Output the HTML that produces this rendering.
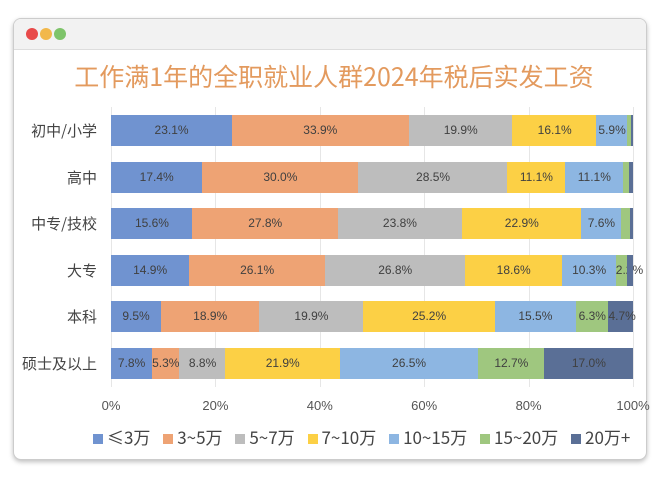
<!DOCTYPE html>
<html><head><meta charset="utf-8"><style>
body{margin:0;width:660px;height:477px;background:#fff;position:relative;overflow:hidden;font-family:"Liberation Sans","Noto Sans CJK SC",sans-serif}
.card{position:absolute;left:13px;top:18px;width:632px;height:440px;border:1px solid #ccc;border-radius:8px;box-shadow:0 2px 5px rgba(0,0,0,.25);background:#fff;overflow:hidden}
.bar{position:absolute;left:0;top:0;width:632px;height:30px;background:#f2f2f2;border-bottom:1px solid #ddd}
.dot{position:absolute;top:9px;width:12px;height:12px;border-radius:50%}
.title{position:absolute;left:0;width:668px;top:58px;text-align:center;font-size:25px;color:#e39a5e;font-family:"Noto Sans CJK SC",sans-serif}
.seg{position:absolute;height:31px;font-size:12px;color:#404040;text-align:center;line-height:31px;white-space:nowrap}
.cat{position:absolute;right:563px;font-size:15px;color:#444;font-family:"Noto Sans CJK SC",sans-serif;line-height:31px;white-space:nowrap}
.grid{position:absolute;top:107px;height:280px;width:1px;background:#e6e6e6}
.tick{position:absolute;top:398px;font-size:13px;color:#555;width:40px;margin-left:-20px;text-align:center}
.leg{position:absolute;top:424px;left:84px;font-size:17px;color:#444;font-family:"Noto Sans CJK SC",sans-serif;white-space:nowrap}
.leg span{display:inline-block;width:10px;height:10px;margin:0 4px 0 9px}
</style></head><body>
<div class="card"><div class="bar">
<div class="dot" style="left:12px;background:#e84a4a"></div>
<div class="dot" style="left:26px;background:#f2b84b"></div>
<div class="dot" style="left:40px;background:#7ec46a"></div></div></div>
<div class="title">工作满1年的全职就业人群2024年税后实发工资</div>
<div id="c"></div>
<div class="leg"><span style="background:#7093d0"></span>≤3万 <span style="background:#eea374"></span>3~5万 <span style="background:#bdbdbd"></span>5~7万 <span style="background:#fcd045"></span>7~10万 <span style="background:#8db6e2"></span>10~15万 <span style="background:#9fc77f"></span>15~20万 <span style="background:#5a6f96"></span>20万+</div>
<script>
var cols=["#7093d0","#eea374","#bdbdbd","#fcd045","#8db6e2","#9fc77f","#5a6f96"];
var rows=[["初中/小学",[23.1,33.9,19.9,16.1,5.9,0.8,0.3],115],
["高中",[17.4,30.0,28.5,11.1,11.1,1.2,0.7],162],
["中专/技校",[15.6,27.8,23.8,22.9,7.6,1.8,0.5],208],
["大专",[14.9,26.1,26.8,18.6,10.3,2.2,1.1],255],
["本科",[9.5,18.9,19.9,25.2,15.5,6.3,4.7],301],
["硕士及以上",[7.8,5.3,8.8,21.9,26.5,12.7,17.0],348]];
var h="",L=111,W=522;
for(var g=0;g<=5;g++)h+='<div class="grid" style="left:'+(L+W*g/5)+'px"></div><div class="tick" style="left:'+(L+W*g/5)+'px">'+(g*20)+'%</div>';
rows.forEach(function(r){
 var x=0,s=0;r[1].forEach(function(v){s+=v});
 h+='<div class="cat" style="top:'+r[2]+'px">'+r[0]+'</div>';
 r[1].forEach(function(v,i){
  var w=v/s*W;
  h+='<div class="seg" style="left:'+(L+x)+'px;top:'+r[2]+'px;width:'+(w+0.5)+'px;background:'+cols[i]+'">'+(v>=2?v.toFixed(1)+'%':'')+'</div>';
  x+=w;});
});
document.getElementById("c").innerHTML=h;
</script>
</body></html>
